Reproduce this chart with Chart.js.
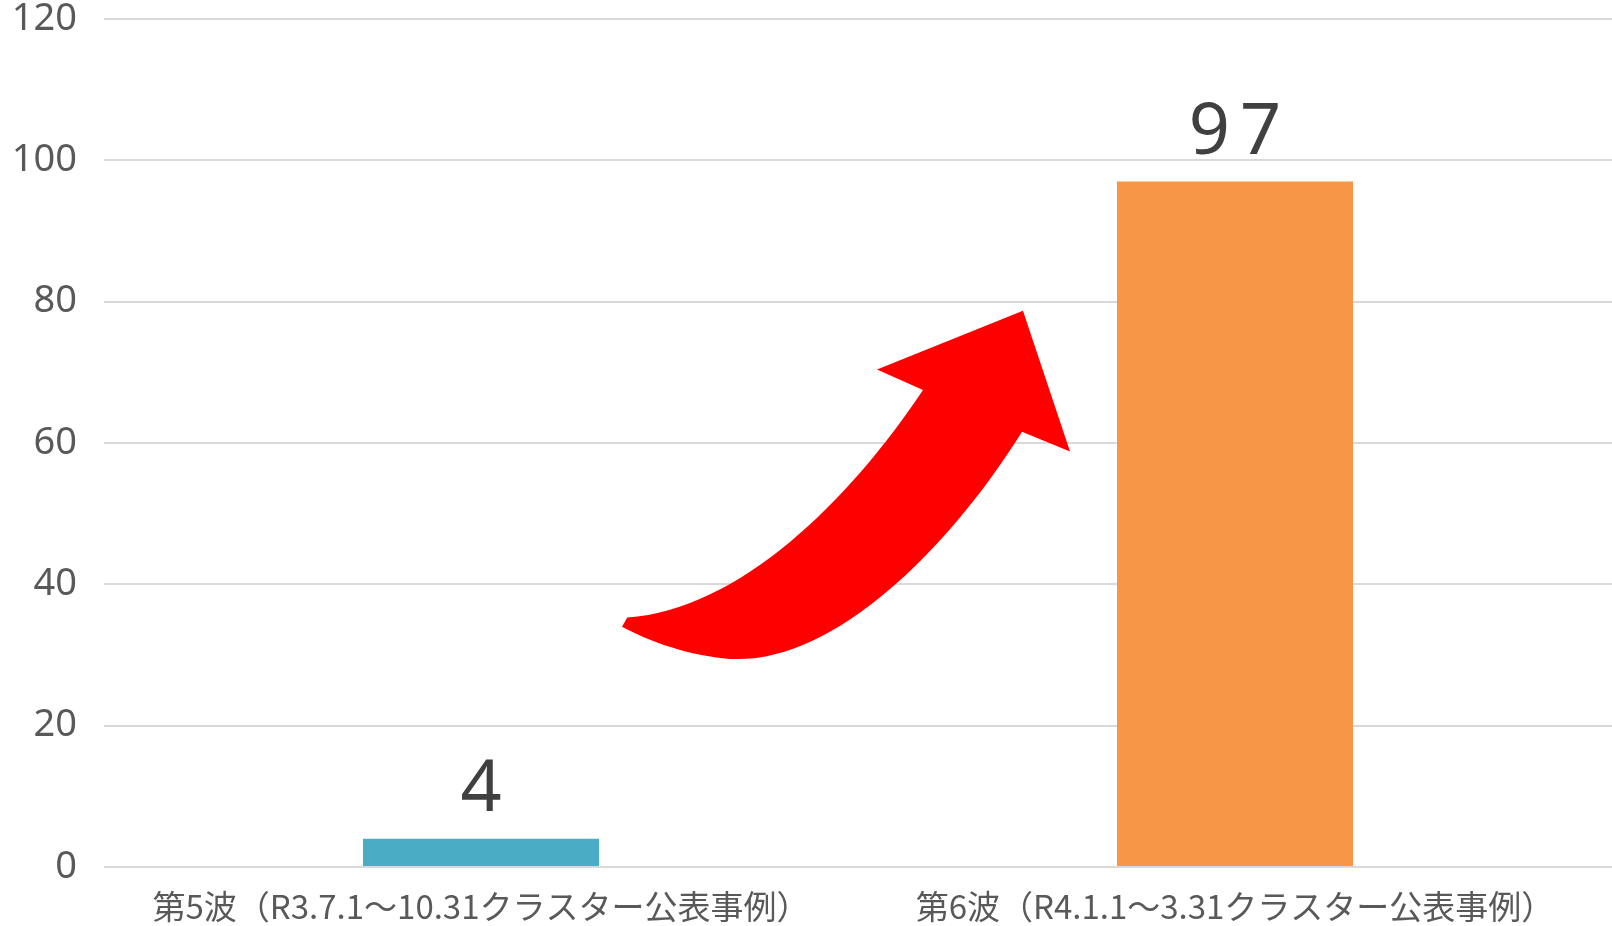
<!DOCTYPE html>
<html>
<head>
<meta charset="utf-8">
<script src="https://cdn.jsdelivr.net/npm/chart.js@4"></script>
<style>
  html, body { margin: 0; padding: 0; background: #ffffff; }
  #wrap { width: 1612px; height: 926px; }
</style>
</head>
<body>
<div id="wrap"><canvas id="clusterChart" width="1612" height="926"></canvas></div>
<script>
// Données du graphique
const categories = [
  "第5波（R3.7.1～10.31クラスター公表事例）",
  "第6波（R4.1.1～3.31クラスター公表事例）",
];
const clusterCounts = [4, 97];
const barColors = ["#4bacc6", "#f79646"];
const yMin = 0;
const yMax = 120;
const yStep = 20;

// Flèche rouge (index de catégorie, valeur) : contour de la forme
const arrowTail = [[0.194, 35.3], [0.187, 34.0]];
const arrowUpper = [[0.3435, 36.4], [0.4894, 52.0], [0.5862, 67.5]];
const arrowHead = [[0.5252, 70.4], [0.7188, 78.7], [0.7812, 58.8], [0.7175, 61.6]];
const arrowLower = [[0.6154, 44.2], [0.4629, 28.6], [0.3302, 29.45]];
const arrowBottom = [[0.2772, 29.88], [0.2241, 31.86]];

const arrowPlugin = {
  id: "arrowPlugin",
  afterDatasetsDraw(chart) {
    const { ctx, scales } = chart;
    const p = (pt) => [scales.x.getPixelForValue(pt[0]), scales.y.getPixelForValue(pt[1])];
    const t0 = p(arrowTail[0]);
    const u1 = p(arrowUpper[0]), u2 = p(arrowUpper[1]), u3 = p(arrowUpper[2]);
    const h = arrowHead.map(p);
    const l1 = p(arrowLower[0]), l2 = p(arrowLower[1]), l3 = p(arrowLower[2]);
    const b1 = p(arrowBottom[0]), b2 = p(arrowBottom[1]);
    const t1 = p(arrowTail[1]);

    ctx.save();
    ctx.beginPath();
    ctx.moveTo(t0[0], t0[1]);
    ctx.bezierCurveTo(u1[0], u1[1], u2[0], u2[1], u3[0], u3[1]);
    h.forEach((pt) => ctx.lineTo(pt[0], pt[1]));
    ctx.bezierCurveTo(l1[0], l1[1], l2[0], l2[1], l3[0], l3[1]);
    ctx.bezierCurveTo(b1[0], b1[1], b2[0], b2[1], t1[0], t1[1]);
    ctx.closePath();
    ctx.fillStyle = "#ff0000";
    ctx.fill();
    ctx.restore();
  },
};

const valueLabels = {
  id: "valueLabels",
  afterDatasetsDraw(chart) {
    const { ctx } = chart;
    const meta = chart.getDatasetMeta(0);
    ctx.save();
    ctx.font = '72px "Noto Sans", "Noto Sans CJK JP", sans-serif';
    ctx.fillStyle = "#404040";
    ctx.textAlign = "center";
    ctx.textBaseline = "alphabetic";
    ctx.letterSpacing = "10px";
    meta.data.forEach((bar, i) => {
      // le letterSpacing ajoute un espace à droite, on recentre
      ctx.fillText(String(clusterCounts[i]), bar.x + 5, bar.y - 28);
    });
    ctx.restore();
  },
};

const ctx = document.getElementById("clusterChart").getContext("2d");
new Chart(ctx, {
  type: "bar",
  data: {
    labels: categories,
    datasets: [
      {
        data: clusterCounts,
        backgroundColor: barColors,
        borderWidth: 0,
        categoryPercentage: 1,
        barPercentage: 0.313,
      },
    ],
  },
  options: {
    responsive: false,
    animation: false,
    layout: { padding: { top: 19, left: 0, right: 0, bottom: 0 } },
    plugins: {
      legend: { display: false },
      tooltip: { enabled: false },
    },
    scales: {
      x: {
        grid: { display: false, drawTicks: false },
        border: { display: false },
        ticks: {
          color: "#595959",
          padding: 20,
          maxRotation: 0,
          autoSkip: false,
          font: { family: '"Noto Sans CJK JP", sans-serif', size: 33 },
        },
        afterFit(scale) {
          scale.height = 59;
          scale.paddingLeft = 0;
          scale.paddingRight = 0;
        },
      },
      y: {
        min: yMin,
        max: yMax,
        grid: { color: "#d9d9d9", lineWidth: 2, drawTicks: false },
        border: { display: false },
        ticks: {
          stepSize: yStep,
          color: "#595959",
          padding: 27,
          font: { family: '"Noto Sans", sans-serif', size: 38, lineHeight: 1.1 },
        },
        afterFit(scale) {
          scale.width = 104;
          scale.paddingTop = 0;
          scale.paddingBottom = 0;
        },
      },
    },
  },
  plugins: [arrowPlugin, valueLabels],
});
</script>
</body>
</html>
